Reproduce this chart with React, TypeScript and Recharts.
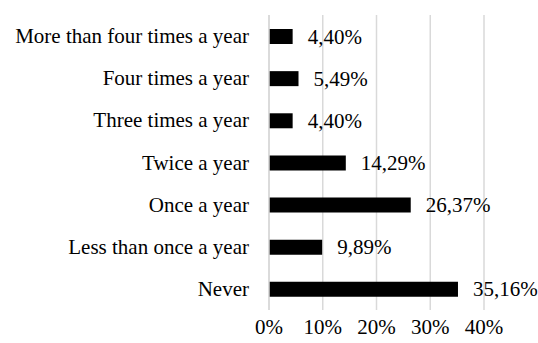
import React from 'react';
import {
  BarChart, Bar, XAxis, YAxis, CartesianGrid, LabelList
} from 'recharts';

const categories = [
  'More than four times a year',
  'Four times a year',
  'Three times a year',
  'Twice a year',
  'Once a year',
  'Less than once a year',
  'Never',
];
const shares = [4.40, 5.49, 4.40, 14.29, 26.37, 9.89, 35.16];
const xTicks = [0, 10, 20, 30, 40];

const data = categories.map((name, i) => ({ name, value: shares[i] }));

const textStyle: React.CSSProperties = {
  fontFamily: "'Liberation Serif', 'Times New Roman', serif",
  fontSize: 21,
  fill: '#000',
};

const pct = (v: number) => v.toFixed(2).replace('.', ',') + '%';

const XTick = (props: any) => {
  const { x, y, payload } = props;
  return (
    <text x={x} y={y} dy={16} textAnchor="middle" style={textStyle}>
      {`${payload.value}%`}
    </text>
  );
};

const YTick = (props: any) => {
  const { x, y, payload } = props;
  return (
    <text x={x} y={y} dy={7} textAnchor="end" style={textStyle}>
      {payload.value}
    </text>
  );
};

const ValueLabel = (props: any) => {
  const { x, y, width, height, value } = props;
  return (
    <text x={Number(x) + Number(width) + 15} y={Number(y) + Number(height) / 2} dy={7} textAnchor="start" style={textStyle}>
      {pct(Number(value))}
    </text>
  );
};

export default function App() {
  return (
    <div style={{ width: 538, height: 343 }}>
      <style>{`body { margin: 0; }`}</style>
      <BarChart
        width={538}
        height={343}
        data={data}
        layout="vertical"
        margin={{ top: 15, right: 54, bottom: 0, left: 0 }}
      >
        <CartesianGrid horizontal={false} stroke="#d9d9d9" strokeWidth={1.5} />
        <XAxis
          type="number"
          domain={[0, 40]}
          ticks={xTicks}
          axisLine={false}
          tickLine={false}
          height={33}
          tick={<XTick />}
        />
        <YAxis
          type="category"
          dataKey="name"
          width={269}
          axisLine={{ stroke: '#d9d9d9', strokeWidth: 1.5 }}
          tickLine={false}
          tickMargin={14}
          tick={<YTick />}
        />
        <Bar dataKey="value" fill="#000" barSize={15} isAnimationActive={false}>
          <LabelList dataKey="value" content={<ValueLabel />} />
        </Bar>
      </BarChart>
    </div>
  );
}
